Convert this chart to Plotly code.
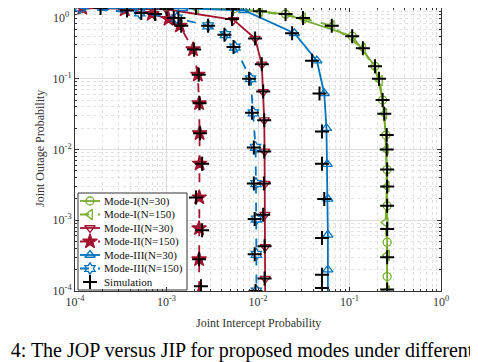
import plotly.graph_objects as go

GREEN = "#77AC30"
RED = "#A2142F"
BLUE = "#0072BD"

# Mode-I
m1_n30_x = [7.0e-4, 5.5e-3, 0.020, 0.107, 0.19, 0.23, 0.25, 0.257, 0.258, 0.258, 0.258, 0.258]
m1_n30_y = [1.0, 0.98, 0.82, 0.40, 0.15, 0.05, 0.016, 0.0052, 0.0016, 4.9e-4, 1.6e-4, 5.0e-5]
m1_n150_x = [2.1e-3, 0.0105, 0.031, 0.064, 0.14, 0.215, 0.24, 0.25, 0.255, 0.248, 0.257, 0.258]
m1_n150_y = [1.0, 0.90, 0.72, 0.56, 0.27, 0.094, 0.032, 0.010, 0.003, 9.3e-4, 3.2e-4, 1.0e-4]

# Mode-II
m2_n30_x = [1.2e-4, 3.5e-4, 1.0e-3, 5.4e-3, 9.3e-3, 0.0110, 0.0114, 0.0117, 0.0118, 0.0119, 0.0119, 0.0120, 0.0120, 0.0120]
m2_n30_y = [1.0, 0.98, 0.96, 0.68, 0.37, 0.16, 0.065, 0.026, 0.0094, 0.0033, 0.0012, 4.2e-4, 1.5e-4, 5.0e-5]
m2_n150_x = [1.2e-4, 3.5e-4, 6.9e-4, 1.05e-3, 1.4e-3, 1.95e-3, 2.2e-3, 2.27e-3, 2.3e-3, 2.3e-3, 2.28e-3, 2.27e-3, 2.27e-3, 2.27e-3]
m2_n150_y = [1.0, 0.95, 0.82, 0.70, 0.56, 0.26, 0.114, 0.045, 0.017, 0.0063, 0.0021, 7.7e-4, 2.8e-4, 9.0e-5]

# Mode-III
m3_n30_x = [2.0e-4, 1.5e-3, 7.0e-3, 0.025, 0.044, 0.053, 0.056, 0.057, 0.058, 0.058, 0.058, 0.058]
m3_n30_y = [1.0, 0.99, 0.93, 0.44, 0.18, 0.062, 0.020, 0.0062, 0.0020, 6.2e-4, 2.0e-4, 5.0e-5]
m3_n150_x = [1.13e-4, 5.1e-4, 1.3e-3, 2.85e-3, 4.4e-3, 5.6e-3, 8.3e-3, 8.9e-3, 9.4e-3, 9.5e-3, 9.6e-3, 9.6e-3, 9.6e-3]
m3_n150_y = [1.0, 0.85, 0.72, 0.56, 0.42, 0.28, 0.10, 0.033, 0.0107, 0.0033, 1.04e-3, 3.3e-4, 1.0e-4]

# Simulation points
sim1_x = [2.1e-3, 0.0105, 0.020, 0.031, 0.064, 0.107, 0.14, 0.19, 0.21, 0.23, 0.24, 0.255, 0.255, 0.258, 0.258, 0.258, 0.258, 0.258, 0.258]
sim1_y = [1.0, 0.90, 0.82, 0.72, 0.56, 0.40, 0.27, 0.15, 0.10, 0.05, 0.032, 0.016, 0.010, 0.0052, 0.003, 0.0016, 7.5e-4, 3.0e-4, 1.05e-4]
sim2a_x = [1.0e-3, 5.2e-3, 9.3e-3, 0.0110, 0.0114, 0.0117, 0.0117, 0.0116, 0.0114, 0.0118, 0.0118]
sim2a_y = [0.97, 0.70, 0.37, 0.16, 0.066, 0.026, 0.0094, 0.0033, 0.0012, 4.3e-4, 1.5e-4]
sim2b_x = [1.9e-4, 3.7e-4, 7.5e-4, 1.2e-3, 1.45e-3, 2.0e-3, 2.25e-3, 2.3e-3, 2.33e-3, 2.45e-3, 2.1e-3, 2.45e-3, 2.27e-3, 2.38e-3]
sim2b_y = [1.0, 0.92, 0.82, 0.72, 0.56, 0.26, 0.114, 0.045, 0.017, 0.0063, 0.0021, 7.2e-4, 2.8e-4, 1.17e-4]
sim3a_x = [5.3e-3, 0.0236, 0.039, 0.047, 0.050, 0.050, 0.053, 0.050, 0.050, 0.050]
sim3a_y = [0.97, 0.44, 0.18, 0.062, 0.018, 0.0063, 0.0020, 5.6e-4, 1.7e-4, 1.1e-4]
sim3b_x = [5.3e-4, 1.35e-3, 2.85e-3, 4.3e-3, 5.4e-3, 8.0e-3, 8.6e-3, 9.0e-3, 9.0e-3, 9.2e-3, 9.2e-3, 9.4e-3]
sim3b_y = [0.85, 0.72, 0.56, 0.42, 0.28, 0.10, 0.033, 0.0107, 0.0033, 1.04e-3, 3.3e-4, 1.0e-4]

tick_vals = [1e-4, 1e-3, 1e-2, 1e-1, 1e0]
tick_text = ["10<sup>-4</sup>", "10<sup>-3</sup>", "10<sup>-2</sup>", "10<sup>-1</sup>", "10<sup>0</sup>"]
minor_vals = [m * 10.0 ** e for e in range(-4, 0) for m in range(2, 10)]

FONT = "Liberation Serif, Times New Roman, serif"

# page has an 8px body margin, so the figure is a bit smaller than the window
OFF = 8
W, H = 470, 354
L, R, T, B = 67, 37, 0, 71
PW, PH = W - L - R, H - T - B

fig = go.Figure()

# (name, x, y, color, symbol, dash, size)
curves = [
    ("Mode-I(N=30)", m1_n30_x, m1_n30_y, GREEN, "circle-open", "solid", 8),
    ("Mode-I(N=150)", m1_n150_x, m1_n150_y, GREEN, "triangle-left-open", "dash", 9),
    ("Mode-II(N=30)", m2_n30_x, m2_n30_y, RED, "triangle-down-open", "solid", 9),
    ("Mode-II(N=150)", m2_n150_x, m2_n150_y, RED, "star", "dash", 11),
    ("Mode-III(N=30)", m3_n30_x, m3_n30_y, BLUE, "triangle-up-open", "solid", 9),
    ("Mode-III(N=150)", m3_n150_x, m3_n150_y, BLUE, "hexagram-open", "dash", 9),
]

for name, x, y, color, symbol, dash, size in curves:
    fig.add_trace(go.Scatter(
        x=x, y=y, name=name, mode="lines+markers", showlegend=False,
        line=dict(color=color, width=1.8, dash=dash),
        marker=dict(symbol=symbol, size=size, color=color,
                    line=dict(color=color, width=1.3)),
    ))

sim_marker = dict(symbol="cross-thin", size=10, color="black", line=dict(color="black", width=2))
for sx, sy in [(sim1_x, sim1_y), (sim2a_x, sim2a_y), (sim2b_x, sim2b_y), (sim3a_x, sim3a_y), (sim3b_x, sim3b_y)]:
    fig.add_trace(go.Scatter(x=sx, y=sy, name="Simulation", mode="markers",
                             showlegend=False, marker=sim_marker))


# ---- hand-made compact legend box; page pixels -> overlay axis fractions
def fx(px):
    return (px - OFF - L) / PW


def fy(py):
    return (H - B - (py - OFF)) / PH


box_l, box_r, box_t, box_b = 78, 187, 193, 290
fig.add_trace(go.Scatter(
    x=[fx(box_l), fx(box_r), fx(box_r), fx(box_l), fx(box_l)],
    y=[fy(box_b), fy(box_b), fy(box_t), fy(box_t), fy(box_b)],
    xaxis="x2", yaxis="y2", mode="lines", fill="toself", fillcolor="white",
    line=dict(color="#333", width=1), showlegend=False, hoverinfo="skip",
))

row_y = [201, 214.5, 228, 241.5, 255, 268.5, 282]
legend_entries = curves + [("Simulation", None, None, "black", "cross-thin", None, 10)]
for (name, _, _, color, symbol, dash, size), ry in zip(legend_entries, row_y):
    if dash is not None:
        fig.add_trace(go.Scatter(
            x=[fx(80), fx(100)], y=[fy(ry), fy(ry)], xaxis="x2", yaxis="y2",
            mode="lines", showlegend=False, hoverinfo="skip",
            line=dict(color=color, width=1.8, dash=dash),
        ))
    mk = sim_marker if dash is None else dict(symbol=symbol, size=size, color=color,
                                              line=dict(color=color, width=1.3))
    fig.add_trace(go.Scatter(
        x=[fx(90)], y=[fy(ry)], xaxis="x2", yaxis="y2", mode="markers",
        showlegend=False, hoverinfo="skip", marker=mk,
    ))
    fig.add_annotation(text=name, xref="x2", yref="y2", x=fx(102), y=fy(ry),
                       xanchor="left", yanchor="middle", showarrow=False,
                       font=dict(family=FONT, size=11, color="#111"))

axis_common = dict(
    type="log", tickvals=tick_vals,
    showgrid=True, gridcolor="#dcdcdc", gridwidth=1,
    ticks="inside", ticklen=4, tickcolor="#333",
    showline=True, linecolor="#333", linewidth=1, mirror="allticks",
    minor=dict(tickvals=minor_vals, ticks="inside", ticklen=2, tickcolor="#333",
               showgrid=True, gridcolor="#e2e2e2", griddash="dot"),
    tickfont=dict(family=FONT, size=12, color="#333"),
    zeroline=False, automargin=False,
)

fig.update_layout(
    width=W, height=H,
    margin=dict(l=L, r=R, t=T, b=B),
    paper_bgcolor="white", plot_bgcolor="white",
    font=dict(family=FONT, size=12, color="#333"),
    xaxis=dict(range=[-4, 0], ticktext=tick_text, **axis_common),
    # top label of the y axis would be clipped at the page edge, drawn below as an annotation
    yaxis=dict(range=[-4, 0], ticktext=tick_text[:-1] + [""], **axis_common),
    xaxis2=dict(overlaying="x", range=[0, 1], visible=False, fixedrange=True),
    yaxis2=dict(overlaying="y", range=[0, 1], visible=False, fixedrange=True),
    showlegend=False,
)

fig.add_annotation(text=tick_text[-1], xref="paper", yref="paper", x=fx(71), y=1.0,
                   xanchor="right", yanchor="top", showarrow=False,
                   font=dict(family=FONT, size=12, color="#333"))

fig.add_annotation(text="Joint Intercept Probability", xref="paper", yref="paper",
                   x=fx(258), y=fy(323), xanchor="center", yanchor="middle", showarrow=False,
                   font=dict(family=FONT, size=12, color="#333"))
fig.add_annotation(text="Joint Outage Probability", xref="paper", yref="paper",
                   x=fx(40), y=fy(149), xanchor="center", yanchor="middle", showarrow=False,
                   textangle=-90, font=dict(family=FONT, size=12, color="#333"))

fig.add_annotation(
    text="Fig. 4: The JOP versus JIP for proposed modes under different",
    xref="paper", yref="paper", x=fx(476), y=fy(337),
    xanchor="right", yanchor="top",
    showarrow=False, font=dict(family=FONT, size=20, color="black"),
)

fig.write_html("out.html")
